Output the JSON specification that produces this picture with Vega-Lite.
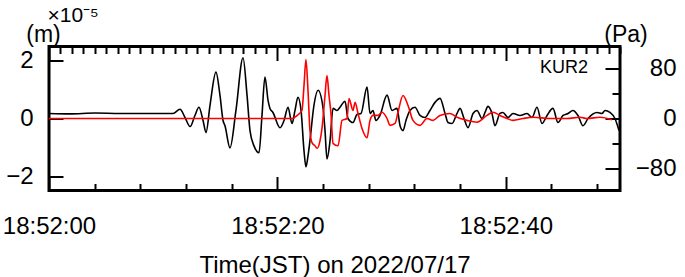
{
  "$schema": "https://vega.github.io/schema/vega-lite/v6.json",
  "width": 571,
  "height": 144,
  "autosize": "none",
  "padding": {"left": 49, "top": 46.5, "right": 65, "bottom": 86.5},
  "datasets": {
    "disp": [
      {"t":0,"v":0.175},{"t":1.84,"v":0.16},{"t":4.03,"v":0.19},{"t":6.22,"v":0.175},{"t":8.84,"v":0.175},{"t":10.86,"v":0.175},
      {"t":11.47,"v":0.32},{"t":11.91,"v":0.035},{"t":12.35,"v":-0.28},{"t":12.78,"v":0.105},{"t":13.13,"v":0.39},{"t":13.49,"v":-0.07},
      {"t":13.75,"v":-0.49},{"t":14.10,"v":0.46},{"t":14.62,"v":1.61},{"t":14.97,"v":0.81},{"t":15.24,"v":-0.07},{"t":15.41,"v":-0.25},
      {"t":15.85,"v":-1.02},{"t":16.37,"v":0.28},{"t":16.99,"v":2.11},{"t":17.34,"v":0.81},{"t":17.60,"v":-0.42},{"t":17.95,"v":-0.95},
      {"t":18.39,"v":-1.19},{"t":18.65,"v":0.105},{"t":18.91,"v":1.44},{"t":19.18,"v":0.63},{"t":19.35,"v":0.35},{"t":19.61,"v":0.21},
      {"t":20.23,"v":-0.32},{"t":20.58,"v":-0.07},{"t":20.93,"v":0.39},{"t":21.28,"v":-0.175},{"t":21.54,"v":0.28},{"t":21.80,"v":0.74},
      {"t":22.07,"v":0.28},{"t":22.33,"v":-1.12},{"t":22.50,"v":-1.68},{"t":22.68,"v":-1.30},{"t":22.85,"v":-0.77},{"t":23.20,"v":0.46},
      {"t":23.56,"v":0.98},{"t":23.99,"v":0.39},{"t":24.17,"v":-0.42},{"t":24.34,"v":-1.40},{"t":24.61,"v":-0.77},{"t":24.87,"v":0.35},
      {"t":25.22,"v":0.28},{"t":25.48,"v":0.39},{"t":25.92,"v":0.60},{"t":26.18,"v":0},{"t":26.62,"v":-0.14},{"t":26.97,"v":0.14},
      {"t":27.32,"v":0.175},{"t":27.85,"v":1.09},{"t":28.11,"v":0.175},{"t":28.37,"v":0.28},{"t":28.63,"v":-0.07},{"t":28.98,"v":0.105},
      {"t":29.60,"v":0.81},{"t":30.04,"v":0.28},{"t":30.47,"v":0.35},{"t":30.74,"v":-0.25},{"t":31.00,"v":-0.42},{"t":31.26,"v":-0.07},
      {"t":31.61,"v":0.28},{"t":32.05,"v":0.39},{"t":32.49,"v":0.105},{"t":32.92,"v":0.035},{"t":33.36,"v":0.28},{"t":33.80,"v":0.56},
      {"t":34.24,"v":0.70},{"t":34.68,"v":0.175},{"t":34.94,"v":-0.14},{"t":35.29,"v":-0.175},{"t":35.73,"v":0.175},{"t":35.99,"v":0.35},
      {"t":36.34,"v":0},{"t":36.69,"v":-0.32},{"t":37.13,"v":0.175},{"t":37.48,"v":0.28},{"t":37.92,"v":0},{"t":38.18,"v":0.21},
      {"t":38.44,"v":0.42},{"t":38.79,"v":0.175},{"t":39.05,"v":-0.25},{"t":39.49,"v":0.175},{"t":39.75,"v":0.21},{"t":40.19,"v":0.035},
      {"t":40.63,"v":0.175},{"t":41.24,"v":0.105},{"t":41.86,"v":0.175},{"t":42.29,"v":0.035},{"t":42.73,"v":0.39},{"t":43.17,"v":-0.175},
      {"t":43.61,"v":0.105},{"t":44.13,"v":0.35},{"t":44.57,"v":-0.14},{"t":45.01,"v":0.105},{"t":45.45,"v":0.175},{"t":45.88,"v":0.28},
      {"t":46.32,"v":0.105},{"t":46.76,"v":-0.25},{"t":47.20,"v":0},{"t":47.99,"v":0.21},{"t":48.42,"v":0.175},{"t":48.69,"v":0.28},
      {"t":49.12,"v":0.21},{"t":49.56,"v":0},{"t":49.91,"v":-0.42}
    ],
    "pres": [
      {"t":0,"p":0},{"t":21.28,"p":0},{"t":21.72,"p":4.8},{"t":22.15,"p":12.9},{"t":22.33,"p":53},{"t":22.50,"p":95},{"t":22.68,"p":45},
      {"t":22.85,"p":-19},{"t":23.03,"p":-39},{"t":23.29,"p":-44},{"t":23.47,"p":-48},{"t":23.73,"p":-36},{"t":23.91,"p":-15},
      {"t":24.17,"p":37},{"t":24.34,"p":69},{"t":24.52,"p":37},{"t":24.69,"p":8},{"t":24.87,"p":-40},{"t":25.31,"p":-44},
      {"t":25.66,"p":-3},{"t":26.09,"p":0},{"t":26.27,"p":32},{"t":26.62,"p":13},{"t":26.80,"p":26},{"t":27.06,"p":8},
      {"t":27.41,"p":-16},{"t":27.85,"p":-31},{"t":28.11,"p":-3},{"t":28.37,"p":5},{"t":28.81,"p":5},{"t":29.16,"p":10},
      {"t":29.60,"p":0},{"t":29.86,"p":-11},{"t":30.30,"p":-8},{"t":30.56,"p":10},{"t":31.00,"p":37},{"t":31.44,"p":21},
      {"t":31.87,"p":-3},{"t":32.49,"p":-11},{"t":33.10,"p":0},{"t":33.63,"p":-3},{"t":34.24,"p":5},{"t":35.11,"p":8},
      {"t":35.73,"p":2},{"t":36.60,"p":-3},{"t":37.48,"p":-6},{"t":38.35,"p":5},{"t":38.88,"p":10},{"t":39.49,"p":5},
      {"t":40.11,"p":0},{"t":40.63,"p":-3},{"t":41.51,"p":0},{"t":42.38,"p":2},{"t":43.87,"p":0},{"t":45.36,"p":0},
      {"t":46.50,"p":2},{"t":47.11,"p":0},{"t":48.25,"p":2},{"t":49.30,"p":-2}
    ]
  },
  "layer": [
    {
      "layer": [
        {
          "data": {"name": "disp"},
          "mark": {"type": "line", "color": "black", "strokeWidth": 1.6, "interpolate": "monotone"},
          "encoding": {
            "x": {
              "field": "t", "type": "quantitative",
              "scale": {"domain": [0, 50], "nice": false, "zero": false},
              "axis": {
                "orient": "bottom",
                "values": [0,1,2,3,4,5,6,7,8,9,10,11,12,13,14,15,16,17,18,19,20,21,22,23,24,25,26,27,28,29,30,31,32,33,34,35,36,37,38,39,40,41,42,43,44,45,46,47,48,49,50],
                "tickSize": {"condition": {"test": "datum.value % 20 === 0", "value": -14}, "value": -7},
                "labelExpr": "datum.value % 20 === 0 && datum.value < 50 ? '18:52:' + (datum.value < 10 ? '0' : '') + datum.value : ''",
                "labelFlush": false,
                "labelOverlap": false,
                "labelPadding": 38,
                "title": "Time(JST) on 2022/07/17",
                "titleY": 81.5,
                "titleBaseline": "alphabetic"
              }
            },
            "y": {
              "field": "v", "type": "quantitative",
              "scale": {"domain": [-2.5, 2.5], "nice": false, "zero": false},
              "axis": {
                "orient": "left",
                "values": [-2, -1, 0, 1, 2],
                "tickSize": {"condition": {"test": "datum.value % 2 === 0", "value": -14}, "value": -7},
                "labelExpr": "datum.value % 2 === 0 ? datum.label : ''",
                "labelOverlap": false,
                "labelPadding": 30,
                "title": "(m)",
                "titleAngle": 0,
                "titleX": -6,
                "titleY": -5,
                "titleAlign": "center",
                "titleBaseline": "alphabetic",
                "titleFontSize": 23
              }
            }
          }
        },
        {
          "data": {"values": [{}]},
          "mark": {"type": "text", "text": "KUR2", "align": "right", "baseline": "middle", "fontSize": 18, "font": "Liberation Sans", "color": "black"},
          "encoding": {
            "x": {"datum": 47.2, "type": "quantitative"},
            "y": {"datum": 1.74, "type": "quantitative"}
          }
        }
      ]
    },
    {
      "data": {"name": "pres"},
      "mark": {"type": "line", "color": "#ff0000", "strokeWidth": 1.6, "interpolate": "monotone"},
      "encoding": {
        "x": {
          "field": "t", "type": "quantitative",
          "axis": {
            "orient": "top",
            "values": [0,1,2,3,4,5,6,7,8,9,10,11,12,13,14,15,16,17,18,19,20,21,22,23,24,25,26,27,28,29,30,31,32,33,34,35,36,37,38,39,40,41,42,43,44,45,46,47,48,49,50],
            "tickSize": {"condition": {"test": "datum.value % 20 === 0", "value": -14}, "value": -7},
            "labels": false,
            "title": "×10⁻⁵",
            "titleX": -2,
            "titleY": -25,
            "titleAlign": "left",
            "titleBaseline": "alphabetic",
            "titleFontSize": 21
          }
        },
        "y": {
          "field": "p", "type": "quantitative",
          "scale": {"domain": [-116, 116], "nice": false, "zero": false},
          "axis": {
            "orient": "right",
            "values": [-80, -40, 0, 40, 80],
            "tickSize": {"condition": {"test": "datum.value % 80 === 0", "value": -15}, "value": -8},
            "labelExpr": "datum.value % 80 === 0 ? datum.label : ''",
            "labelOverlap": false,
            "labelAlign": "right",
            "labelPadding": 71,
            "title": "(Pa)",
            "titleAngle": 0,
            "titleX": 5.5,
            "titleY": -5,
            "titleAlign": "center",
            "titleBaseline": "alphabetic",
            "titleFontSize": 23
          }
        }
      }
    }
  ],
  "resolve": {"scale": {"y": "independent"}},
  "config": {
    "view": {"stroke": "black", "strokeWidth": 3},
    "axis": {
      "domain": false,
      "grid": false,
      "tickColor": "black",
      "tickWidth": 2,
      "labelColor": "black",
      "titleColor": "black",
      "labelFont": "Liberation Sans",
      "titleFont": "Liberation Sans",
      "labelFontSize": 24,
      "titleFontSize": 24,
      "titleFontWeight": "normal"
    }
  }
}
